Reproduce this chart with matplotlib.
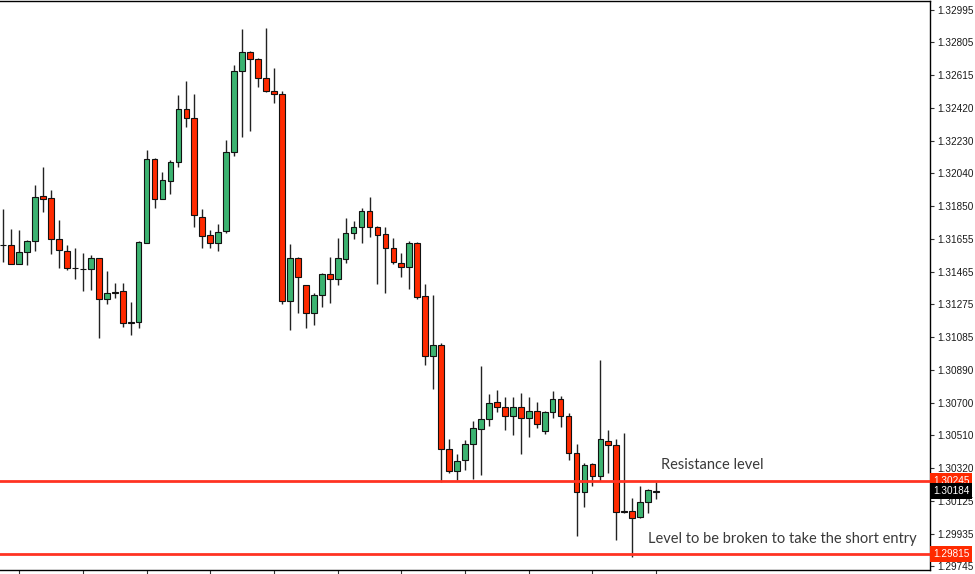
"""
GBP/USD style candlestick chart with resistance and breakout levels.

Saves out.png (975x574).
"""

import matplotlib.pyplot as plt
import numpy as np

# OHLC, one entry per candle
opens = [
    1.31621, 1.31621, 1.31510, 1.31580, 1.31644, 1.31907, 1.31896, 1.31656, 1.31586, 1.31487,
    1.31481, 1.31481, 1.31545, 1.31305, 1.31346, 1.31352, 1.31171, 1.31171, 1.31633, 1.32124,
    1.31890, 1.31995, 1.32106, 1.32416, 1.32363, 1.31785, 1.31679, 1.31633, 1.31703, 1.32165,
    1.32638, 1.32749, 1.32708, 1.32597, 1.32521, 1.32504, 1.31294, 1.31545, 1.31387, 1.31224,
    1.31329, 1.31452, 1.31422, 1.31539, 1.31691, 1.31726, 1.31820, 1.31726, 1.31685, 1.31603,
    1.31516, 1.31492, 1.31633, 1.31323, 1.30972, 1.31037, 1.30429, 1.30300, 1.30364, 1.30458,
    1.30546, 1.30604, 1.30703, 1.30674, 1.30622, 1.30674, 1.30610, 1.30651, 1.30534, 1.30645,
    1.30721, 1.30622, 1.30405, 1.30177, 1.30341, 1.30271, 1.30475, 1.30452, 1.30066, 1.30066,
    1.30031, 1.30119, 1.30180,
]
highs = [
    1.31831, 1.31715, 1.31709, 1.31650, 1.31972, 1.32077, 1.31942, 1.31767, 1.31621, 1.31603,
    1.31574, 1.31563, 1.31548, 1.31469, 1.31399, 1.31399, 1.31288, 1.31642, 1.32176, 1.32127,
    1.32048, 1.32118, 1.32498, 1.32580, 1.32504, 1.31831, 1.31709, 1.31744, 1.32235, 1.32673,
    1.32884, 1.32752, 1.32711, 1.32890, 1.32656, 1.32521, 1.31627, 1.31551, 1.31390, 1.31340,
    1.31457, 1.31551, 1.31662, 1.31779, 1.31761, 1.31837, 1.31902, 1.31732, 1.31726, 1.31662,
    1.31574, 1.31644, 1.31636, 1.31393, 1.31329, 1.31048, 1.30487, 1.30399, 1.30481, 1.30592,
    1.30914, 1.30750, 1.30773, 1.30733, 1.30733, 1.30756, 1.30733, 1.30703, 1.30651, 1.30768,
    1.30738, 1.30639, 1.30458, 1.30347, 1.30347, 1.30949, 1.30540, 1.30487, 1.30522, 1.30142,
    1.30212, 1.30195, 1.30236,
]
lows = [
    1.31522, 1.31510, 1.31508, 1.31505, 1.31586, 1.31814, 1.31568, 1.31487, 1.31475, 1.31422,
    1.31352, 1.31358, 1.31077, 1.31276, 1.31311, 1.31142, 1.31095, 1.31136, 1.31630, 1.31837,
    1.31888, 1.31919, 1.32077, 1.32311, 1.31726, 1.31603, 1.31603, 1.31586, 1.31691, 1.32141,
    1.32252, 1.32287, 1.32545, 1.32518, 1.32451, 1.31276, 1.31124, 1.31224, 1.31136, 1.31153,
    1.31259, 1.31282, 1.31387, 1.31516, 1.31656, 1.31633, 1.31668, 1.31393, 1.31340, 1.31510,
    1.31434, 1.31364, 1.31305, 1.30920, 1.30779, 1.30236, 1.30288, 1.30247, 1.30306, 1.30253,
    1.30277, 1.30563, 1.30645, 1.30540, 1.30510, 1.30399, 1.30499, 1.30551, 1.30516, 1.30610,
    1.30557, 1.30364, 1.29920, 1.30090, 1.30212, 1.30241, 1.30288, 1.29897, 1.30055, 1.29797,
    1.30028, 1.30055, 1.30136,
]
closes = [
    1.31624, 1.31510, 1.31580, 1.31644, 1.31902, 1.31890, 1.31656, 1.31592, 1.31487, 1.31484,
    1.31478, 1.31545, 1.31305, 1.31340, 1.31343, 1.31165, 1.31168, 1.31639, 1.32124, 1.31890,
    1.32001, 1.32106, 1.32416, 1.32363, 1.31796, 1.31674, 1.31633, 1.31697, 1.32165, 1.32638,
    1.32749, 1.32708, 1.32597, 1.32521, 1.32504, 1.31294, 1.31545, 1.31434, 1.31224, 1.31329,
    1.31452, 1.31422, 1.31545, 1.31691, 1.31726, 1.31820, 1.31726, 1.31679, 1.31603, 1.31522,
    1.31492, 1.31633, 1.31317, 1.30972, 1.31037, 1.30429, 1.30300, 1.30358, 1.30458, 1.30551,
    1.30604, 1.30697, 1.30674, 1.30622, 1.30674, 1.30610, 1.30651, 1.30575, 1.30645, 1.30721,
    1.30622, 1.30405, 1.30177, 1.30335, 1.30271, 1.30487, 1.30452, 1.30060, 1.30063, 1.30025,
    1.30119, 1.30189, 1.30184,
]

price_ticks = [
    1.32995, 1.32805, 1.32615, 1.32420, 1.32230, 1.32040, 1.31850, 1.31655, 1.31465,
    1.31275, 1.31085, 1.30890, 1.30700, 1.30510, 1.30320, 1.30125, 1.29935, 1.29745,
]

resistance = 1.30245
breakout = 1.29815
last_price = 1.30184

GREEN = "#3cb371"
RED = "#ff2a00"
LEVEL_RED = "#ff3322"


def main() -> None:
    o = np.array(opens)
    h = np.array(highs)
    lo = np.array(lows)
    c = np.array(closes)
    x = np.arange(len(o))

    fig = plt.figure(figsize=(9.75, 5.74), dpi=100)
    ax = fig.add_axes([0.0, 4 / 574, 930 / 975, 569 / 574])

    # wicks first, bodies on top
    ax.vlines(x, lo, h, color="#222222", linewidth=1.0, zorder=2)
    up = c >= o
    body_low = np.minimum(o, c)
    body_h = np.maximum(np.abs(c - o), 0.00002)
    ax.bar(x, body_h, bottom=body_low, width=0.72,
           color=np.where(up, GREEN, RED), edgecolor="#111111",
           linewidth=0.8, zorder=3)

    # key levels
    for lvl in (resistance, breakout):
        ax.axhline(lvl, color=LEVEL_RED, linewidth=2.0, zorder=4)

    ax.text(82.6, 1.30335, "Resistance level", family="Lato", fontsize=10.5,
            color="#3a3a3a", ha="left", va="center")
    ax.text(81.0, 1.29905, "Level to be broken to take the short entry",
            family="Lato", fontsize=10.5, color="#3a3a3a", ha="left", va="center")

    ax.set_xlim(-0.41, 116.4)
    ax.set_ylim(1.29722, 1.33047)

    # axis styling (MT4 look)
    ax.spines["left"].set_visible(False)
    for side in ("top", "right", "bottom"):
        ax.spines[side].set_color("black")
        ax.spines[side].set_linewidth(1.0)

    ax.set_xticks(x[2::8])
    ax.tick_params(axis="x", direction="out", length=4, labelbottom=False,
                   color="#333333")

    ax.yaxis.tick_right()
    ax.set_yticks(price_ticks)
    ax.set_yticklabels([f"{v:.5f}" for v in price_ticks])
    ax.tick_params(axis="y", direction="out", length=3, pad=2, labelsize=7.2,
                   labelcolor="#1a1a1a", color="#333333")
    for lab in ax.get_yticklabels():
        lab.set_family("Liberation Sans")

    # price tags on the axis
    tags = [(resistance, RED), (last_price, "black"), (breakout, RED)]
    for val, fc in tags:
        ax.text(1.003, val, f"{val:.5f}", transform=ax.get_yaxis_transform(),
                ha="left", va="center", fontsize=7.2, family="Liberation Sans",
                color="white", clip_on=False, zorder=6,
                bbox=dict(boxstyle="square,pad=0.3", fc=fc, ec="none"))

    fig.savefig("out.png", dpi=100, facecolor="white")
    plt.close(fig)


if __name__ == "__main__":
    main()
